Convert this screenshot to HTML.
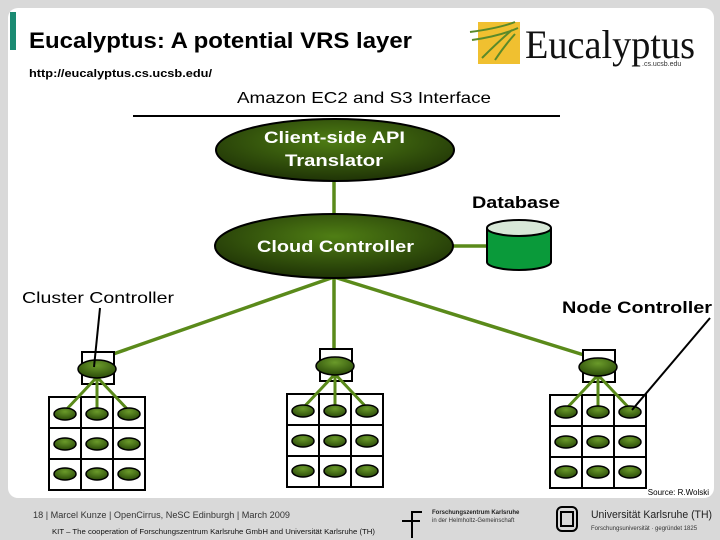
<!DOCTYPE html>
<html><head><meta charset="utf-8"><style>
html,body{margin:0;padding:0;}
body{width:720px;height:540px;background:#d9d9d9;position:relative;overflow:hidden;font-family:"Liberation Sans",sans-serif;}
</style></head><body>
<svg width="720" height="540" viewBox="0 0 720 540" xmlns="http://www.w3.org/2000/svg" style="position:absolute;left:0;top:0">
<defs>
<radialGradient id="g" cx="50%" cy="35%" r="65%"><stop offset="0" stop-color="#4f7e14"/><stop offset="1" stop-color="#1f3306"/></radialGradient>
<radialGradient id="s" cx="50%" cy="30%" r="70%"><stop offset="0" stop-color="#6a9a2a"/><stop offset="1" stop-color="#2a4a08"/></radialGradient>
<g id="cl">
<rect x="33" y="-45" width="32" height="32" fill="#fff" stroke="#000" stroke-width="2"/>
<g stroke="#000" stroke-width="2" fill="#fff">
<rect x="0" y="0" width="32" height="31"/><rect x="32" y="0" width="32" height="31"/><rect x="64" y="0" width="32" height="31"/>
<rect x="0" y="31" width="32" height="31"/><rect x="32" y="31" width="32" height="31"/><rect x="64" y="31" width="32" height="31"/>
<rect x="0" y="62" width="32" height="31"/><rect x="32" y="62" width="32" height="31"/><rect x="64" y="62" width="32" height="31"/>
</g>
<g stroke="#5a8a1a" stroke-width="3"><line x1="48" y1="-20" x2="16" y2="14"/><line x1="48" y1="-20" x2="48" y2="14"/><line x1="48" y1="-20" x2="80" y2="14"/></g>
<ellipse cx="48" cy="-28" rx="19" ry="9" fill="url(#s)" stroke="#000" stroke-width="1.5"/>
<g fill="url(#s)" stroke="#000" stroke-width="1.5">
<ellipse cx="16" cy="17" rx="11" ry="6"/><ellipse cx="48" cy="17" rx="11" ry="6"/><ellipse cx="80" cy="17" rx="11" ry="6"/>
<ellipse cx="16" cy="47" rx="11" ry="6"/><ellipse cx="48" cy="47" rx="11" ry="6"/><ellipse cx="80" cy="47" rx="11" ry="6"/>
<ellipse cx="16" cy="77" rx="11" ry="6"/><ellipse cx="48" cy="77" rx="11" ry="6"/><ellipse cx="80" cy="77" rx="11" ry="6"/>
</g>
</g>
</defs>
<rect x="8" y="8" width="706" height="490" rx="10" fill="#fff"/>
<rect x="10" y="12" width="6" height="38" fill="#1a8a72"/>
<text x="29" y="48" font-size="22" font-weight="bold" fill="#000" textLength="383" lengthAdjust="spacingAndGlyphs">Eucalyptus: A potential VRS layer</text>
<text x="29" y="77" font-size="11" font-weight="bold" fill="#000" textLength="183" lengthAdjust="spacingAndGlyphs">http://eucalyptus.cs.ucsb.edu/</text>
<rect x="478" y="22" width="42" height="42" fill="#f0c030"/>
<path d="M470 32 Q500 28 515 22 M472 40 Q500 36 518 28 M482 58 Q498 42 512 30 M495 60 Q505 45 515 34" stroke="#5a8a2a" stroke-width="2" fill="none"/>
<text x="525" y="58" font-family="Liberation Serif,serif" font-size="40" fill="#111" textLength="170" lengthAdjust="spacingAndGlyphs">Eucalyptus</text>
<text x="642" y="66" font-size="7" fill="#333">.cs.ucsb.edu</text>
<text x="237" y="103" font-size="16" fill="#000" textLength="254" lengthAdjust="spacingAndGlyphs">Amazon EC2 and S3 Interface</text>
<line x1="133" y1="116" x2="560" y2="116" stroke="#000" stroke-width="2"/>
<g stroke="#5a8a1a" stroke-width="3.5">
<line x1="334" y1="180" x2="334" y2="216"/>
<line x1="450" y1="246" x2="488" y2="246"/>
<line x1="334" y1="277" x2="96" y2="360"/>
<line x1="334" y1="277" x2="334" y2="360"/>
<line x1="334" y1="277" x2="600" y2="360"/>
</g>
<ellipse cx="335" cy="150" rx="119" ry="31" fill="url(#g)" stroke="#000" stroke-width="2"/>
<text x="264" y="143" font-size="17" font-weight="bold" fill="#fff" textLength="141" lengthAdjust="spacingAndGlyphs">Client-side API</text>
<text x="285" y="166" font-size="17" font-weight="bold" fill="#fff" textLength="98" lengthAdjust="spacingAndGlyphs">Translator</text>
<ellipse cx="334" cy="246" rx="119" ry="32" fill="url(#g)" stroke="#000" stroke-width="2"/>
<text x="257" y="252" font-size="17" font-weight="bold" fill="#fff" textLength="157" lengthAdjust="spacingAndGlyphs">Cloud Controller</text>
<text x="472" y="208" font-size="17" font-weight="bold" fill="#000" textLength="88" lengthAdjust="spacingAndGlyphs">Database</text>
<path d="M487 228 V262 A32 8 0 0 0 551 262 V228" fill="#0a9a3a" stroke="#000" stroke-width="2"/>
<ellipse cx="519" cy="228" rx="32" ry="8" fill="#d8e8d8" stroke="#000" stroke-width="2"/>
<text x="22" y="303" font-size="16" fill="#000" textLength="152" lengthAdjust="spacingAndGlyphs">Cluster Controller</text>
<text x="562" y="313" font-size="17" font-weight="bold" fill="#000" textLength="150" lengthAdjust="spacingAndGlyphs">Node Controller</text>
<use href="#cl" x="49" y="397"/>
<use href="#cl" x="287" y="394"/>
<use href="#cl" x="550" y="395"/>
<line x1="100" y1="308" x2="94" y2="367" stroke="#000" stroke-width="2"/>
<line x1="710" y1="318" x2="632" y2="410" stroke="#000" stroke-width="2"/>
<text x="709" y="495" font-size="8" fill="#000" text-anchor="end">Source: R.Wolski</text>
<text x="33" y="518" font-size="9" fill="#333" textLength="257" lengthAdjust="spacingAndGlyphs">18  | Marcel Kunze | OpenCirrus, NeSC Edinburgh | March 2009</text>
<text x="52" y="534" font-size="7" fill="#111" textLength="323" lengthAdjust="spacingAndGlyphs">KIT – The cooperation of Forschungszentrum Karlsruhe GmbH and Universität Karlsruhe (TH)</text>
<path d="M412 530 V512 H422 M402 521 H420 M412 521 V538" stroke="#000" stroke-width="2" fill="none"/>
<text x="432" y="514" font-size="6" font-weight="bold" fill="#222">Forschungszentrum Karlsruhe</text>
<text x="432" y="522" font-size="6" fill="#333">in der Helmholtz-Gemeinschaft</text>
<rect x="557" y="507" width="20" height="24" rx="5" fill="none" stroke="#000" stroke-width="2"/>
<rect x="561" y="512" width="12" height="14" fill="none" stroke="#000" stroke-width="2"/>
<text x="591" y="518" font-size="11" fill="#222" textLength="121" lengthAdjust="spacingAndGlyphs">Universität Karlsruhe (TH)</text>
<text x="591" y="530" font-size="6" fill="#333">Forschungsuniversität · gegründet 1825</text>
</svg>
</body></html>
